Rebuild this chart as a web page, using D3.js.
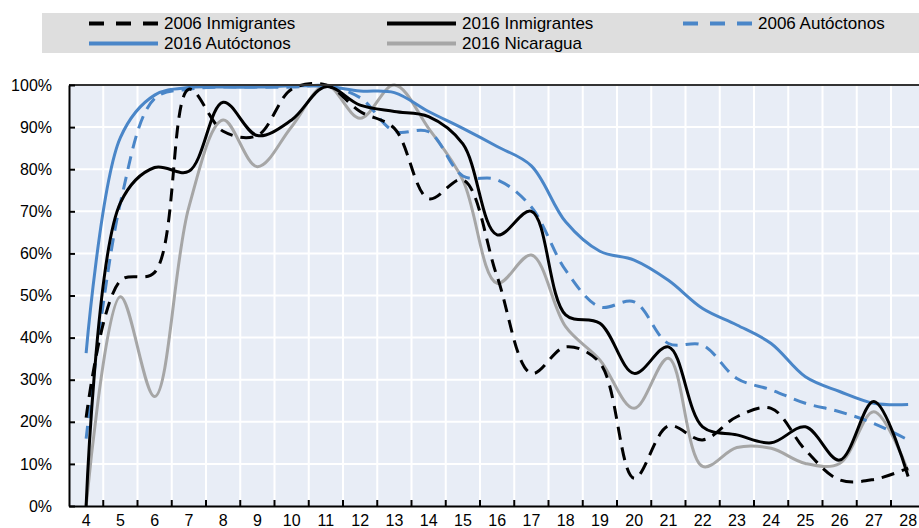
<!DOCTYPE html>
<meta charset="utf-8">
<style>
body { margin: 0; background: #fff; }
text { font-family: 'Liberation Sans', Arial, sans-serif; fill: #000; }
.grid line { stroke: #fff; stroke-width: 2; }
.serie { fill: none; stroke-width: 3; }
</style>
<body>
<svg width="919" height="528"></svg>
<script src="https://cdn.jsdelivr.net/npm/d3@7"></script>
<script>

var edades = [4,5,6,7,8,9,10,11,12,13,14,15,16,17,18,19,20,21,22,23,24,25,26,27,28];

var inm2006 = [21,53.5,55.5,99,89,88,99,100,93.7,89.7,73,77.5,54.5,31.5,37.8,34,6.6,19,15.7,21.2,23.2,13.3,6.2,6.3,9];
var inm2016 = [0,72,80.4,79.5,95.9,88,91.7,99.6,95.2,93.7,92.5,86,64.4,70,45.4,43.4,31.5,37.8,18.8,16.9,15,18.8,10.9,24.8,7];
var aut2006 = [16,72,96.8,99,99.5,99.5,99.5,99.8,97,89,88.9,78.4,77.5,71,56,47.3,48.5,38.6,38.2,30.3,27.6,24.4,22.4,19.6,15.7];
var aut2016 = [36.3,87.5,97.6,99.4,99.5,99.5,99.8,99.7,98.6,98.2,93.7,89.7,85.4,80.8,67.5,60.5,58.4,53.6,46.9,43,38.6,30.7,27.2,24.4,24.1];
var nic2016 = [0,49.7,26,71,91.7,80.6,90.1,100,92.1,100,89.7,77.4,52.9,59.6,42.6,34.7,23.2,35.1,9.4,13.9,13.7,10.1,10.1,22.4,8.2];

var yTicks = [0,0.1,0.2,0.3,0.4,0.5,0.6,0.7,0.8,0.9,1];

var series = [
  {name: "2006 Inmigrantes", values: inm2006, color: "#000", dash: "13,8"},
  {name: "2016 Inmigrantes", values: inm2016, color: "#000", dash: null},
  {name: "2006 Autóctonos", values: aut2006, color: "#4a86c8", dash: "13,8"},
  {name: "2016 Autóctonos", values: aut2016, color: "#4a86c8", dash: null},
  {name: "2016 Nicaragua", values: nic2016, color: "#a6a6a6", dash: null}
];

var svg = d3.select("svg");

var pLeft = 69, pTop = 85, pBottom = 506,
    bw = 34.25,
    pRight = pLeft + edades.length * bw;

var x = d3.scaleBand()
    .domain(edades)
    .range([pLeft, pRight])
    .padding(0);

var y = d3.scaleLinear()
    .domain([0, 1])
    .range([pBottom, pTop]);

// plot background
svg.append("rect")
    .attr("x", pLeft).attr("y", pTop)
    .attr("width", pRight - pLeft).attr("height", pBottom - pTop)
    .attr("fill", "#e8edf6");

// grid
var grid = svg.append("g").attr("class", "grid");
grid.selectAll(".v")
  .data(edades.slice(1))
  .enter().append("line")
    .attr("x1", function(d) { return x(d); })
    .attr("x2", function(d) { return x(d); })
    .attr("y1", pTop).attr("y2", pBottom);
grid.selectAll(".h")
  .data(yTicks.slice(1, -1))
  .enter().append("line")
    .attr("x1", pLeft).attr("x2", pRight)
    .attr("y1", function(d) { return y(d); })
    .attr("y2", function(d) { return y(d); });

// lines
var line = d3.line()
    .x(function(d, i) { return x(edades[i]) + bw / 2; })
    .y(function(d) { return y(d / 100); })
    .curve(d3.curveCatmullRom.alpha(0.5));

svg.append("defs").append("clipPath").attr("id", "plotclip")
  .append("rect")
    .attr("x", pLeft).attr("y", pTop - 3)
    .attr("width", pRight - pLeft).attr("height", pBottom - pTop + 3);

svg.append("g")
    .attr("clip-path", "url(#plotclip)")
  .selectAll("path")
  .data([series[4], series[3], series[2], series[1], series[0]])
  .enter().append("path")
    .attr("class", "serie")
    .attr("d", function(d) { return line(d.values); })
    .attr("stroke", function(d) { return d.color; })
    .attr("stroke-dasharray", function(d) { return d.dash; });

// top border
svg.append("line")
    .attr("x1", pLeft).attr("x2", pRight)
    .attr("y1", pTop).attr("y2", pTop)
    .attr("stroke", "#333").attr("stroke-width", 2);

// y axis
var yAxis = svg.append("g")
    .attr("transform", "translate(" + pLeft + ",0)")
    .call(d3.axisLeft(y).tickValues(yTicks).tickSizeInner(-6).tickSizeOuter(0)
      .tickPadding(17).tickFormat(d3.format(".0%")));
yAxis.select(".domain").attr("stroke", "#000").attr("stroke-width", 2);
yAxis.selectAll(".tick line").attr("stroke", "#000").attr("stroke-width", 2);
yAxis.selectAll("text").attr("font-size", 16).attr("font-family", "'Liberation Sans', Arial, sans-serif");

// x axis
var xAxis = svg.append("g")
    .attr("transform", "translate(0," + pBottom + ")")
    .call(d3.axisBottom(x).tickSize(0).tickPadding(9));
xAxis.select(".domain").attr("stroke", "#000").attr("stroke-width", 2);
xAxis.selectAll("text").attr("font-size", 16).attr("font-family", "'Liberation Sans', Arial, sans-serif");
xAxis.selectAll(".edge")
  .data(edades.slice(1))
  .enter().append("line")
    .attr("x1", function(d) { return x(d); })
    .attr("x2", function(d) { return x(d); })
    .attr("y1", 0).attr("y2", -6)
    .attr("stroke", "#000").attr("stroke-width", 2);

// legend
var legendPos = [
  {x: 89, y: 23.5}, {x: 387, y: 23.5}, {x: 683, y: 23.5},
  {x: 89, y: 43.5}, {x: 387, y: 43.5}
];

svg.append("rect")
    .attr("x", 42).attr("y", 13)
    .attr("width", 919 - 42).attr("height", 40)
    .attr("fill", "#dedede");

var leg = svg.selectAll(".leg")
  .data(series)
  .enter().append("g")
    .attr("transform", function(d, i) { return "translate(" + legendPos[i].x + "," + legendPos[i].y + ")"; });

leg.append("line")
    .attr("x1", 0).attr("x2", 69)
    .attr("y1", 0).attr("y2", 0)
    .attr("stroke", function(d) { return d.color; })
    .attr("stroke-width", 4)
    .attr("stroke-dasharray", function(d) { return d.dash ? "15,12" : null; });

leg.append("text")
    .attr("x", 75)
    .attr("dy", "0.35em")
    .attr("font-size", 17)
    .text(function(d) { return d.name; });

</script>
